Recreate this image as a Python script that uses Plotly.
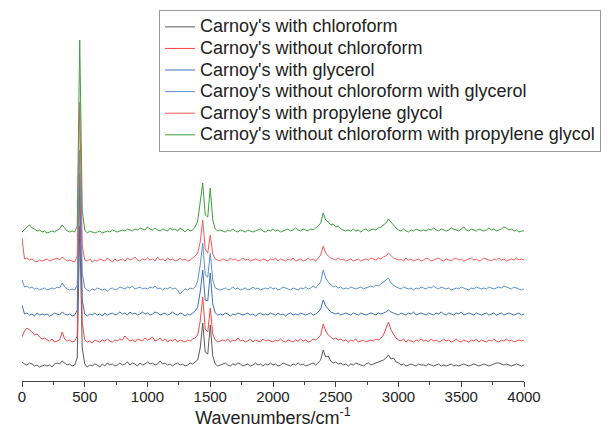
import plotly.graph_objects as go

wavenumbers = list(range(0, 4001, 20))

series_names = [
    "Carnoy's with chloroform",
    "Carnoy's without chloroform",
    "Carnoy's with glycerol",
    "Carnoy's without chloroform with glycerol",
    "Carnoy's with propylene glycol",
    "Carnoy's without chloroform with propylene glycol",
]

with_chloroform = [
    4, 2, 1, 3, 2, 0, 1, -1, 0, 1,
    0, 1, -1, 2, 3, 2, 5, 3, 1, 2,
    0, 1, 8, 140, 18, 2, -1, 1, 0, 2,
    1, -1, 2, 0, 3, 1, 2, 0, 1, 3,
    1, 2, 4, 1, 3, 2, 0, 3, 1, 2,
    4, 2, 3, 1, 2, 5, 2, 3, 1, 2,
    0, 2, 3, 1, 2, 0, 1, 3, 2, 4,
    6, 18, 43, 14, 12, 41, 10, 2, 0, 1,
    2, 3, 1, 0, 2, 1, 3, 2, 0, 1,
    2, 0, 1, 3, 1, 2, 0, 2, 1, 3,
    1, 2, 0, 1, 3, 2, 1, 0, 2, 1,
    3, 1, 2, 0, 1, 2, 3, 1, 4, 6,
    16, 9, 10, 5, 3, 4, 2, 3, 1, 2,
    0, 2, 1, 3, 2, 1, 0, 2, 3, 1,
    2, 3, 4, 5, 6, 8, 11, 7, 8, 4,
    3, 1, 2, 0, 1, 2, 1, 0, 2, 1,
    1, 0, 2, 1, 0, 1, 2, 0, 1, 0,
    1, 2, 0, 1, 0, 1, 2, 1, 0, 1,
    2, 1, 0, 1, 2, 1, 0, 1, 2, 3,
    3, 2, 1, 2, 1, 0, 1, 2, 1, 0,
    1,
]

without_chloroform = [
    6, 12, 15, 13, 11, 8, 9, 6, 4, 5,
    3, 2, 4, 1, 2, 3, 11, 4, 2, 3,
    1, 2, 7, 170, 20, 3, 1, 2, 0, 3,
    2, 1, 3, 2, 4, 2, 1, 3, 2, 4,
    3, 7, 4, 2, 3, 1, 4, 3, 2, 5,
    3, 4, 6, 2, 3, 5, 2, 4, 1, 3,
    2, 4, 1, 3, 2, 1, 3, 2, 4, 5,
    8, 22, 46, 14, 11, 35, 9, 3, 1, 2,
    3, 2, 4, 1, 3, 2, 5, 2, 3, 1,
    2, 4, 1, 3, 2, 1, 4, 2, 3, 2,
    1, 3, 2, 4, 2, 1, 3, 2, 1, 3,
    2, 4, 2, 3, 1, 2, 4, 3, 5, 8,
    19, 12, 8, 6, 4, 5, 3, 4, 2, 3,
    1, 3, 2, 4, 1, 2, 3, 1, 2, 3,
    2, 4, 3, 5, 8, 14, 21, 13, 9, 5,
    3, 2, 4, 1, 3, 2, 1, 3, 2, 4,
    2, 3, 1, 4, 2, 3, 1, 2, 4, 2,
    3, 1, 2, 4, 2, 1, 3, 2, 1, 3,
    2, 4, 1, 3, 2, 1, 3, 2, 4, 2,
    1, 3, 2, 4, 2, 3, 1, 2, 3, 2,
    3,
]

with_glycerol = [
    11, 2, 3, 1, 2, 0, 3, 1, 2, 1,
    2, 0, 1, 3, 2, 1, 4, 2, 1, 2,
    0, 1, 6, 130, 16, 2, 0, 2, 1, 3,
    1, 2, 0, 3, 1, 2, 3, 1, 2, 4,
    2, 3, 1, 4, 2, 3, 1, 2, 4, 2,
    3, 1, 2, 4, 3, 1, 2, 3, 1, 2,
    4, 2, 1, 3, 2, 0, 2, 1, 3, 5,
    9, 24, 46, 16, 15, 43, 12, 3, 1, 2,
    1, 3, 2, 0, 2, 1, 3, 2, 1, 2,
    3, 1, 2, 0, 2, 3, 1, 2, 1, 3,
    2, 1, 3, 1, 2, 0, 2, 3, 1, 2,
    1, 3, 2, 1, 2, 3, 1, 2, 4, 7,
    16, 10, 7, 4, 3, 2, 3, 1, 2, 3,
    2, 1, 3, 2, 1, 3, 2, 1, 2, 3,
    2, 1, 3, 2, 3, 4, 6, 4, 3, 2,
    1, 3, 2, 1, 3, 2, 4, 1, 2, 3,
    2, 1, 3, 2, 1, 3, 2, 4, 2, 1,
    3, 2, 1, 3, 2, 4, 1, 2, 3, 2,
    1, 3, 2, 1, 2, 3, 1, 2, 3, 1,
    2, 3, 1, 2, 3, 2, 1, 2, 3, 1,
    2,
]

without_chloroform_glycerol = [
    11, 4, 5, 3, 4, 2, 3, 1, 2, 3,
    1, 2, 3, 2, 4, 3, 8, 4, 2, 1,
    2, 1, 6, 141, 18, 3, 1, 0, 2, 1,
    3, 2, 1, 2, 0, 2, 3, 1, 2, 4,
    3, 2, 4, 3, 5, 2, 3, 4, 2, 3,
    2, 4, 3, 5, 2, 3, 1, 3, 2, 4,
    2, 3, 1, -3, 0, 2, 1, 3, 2, 4,
    10, 26, 48, 16, 14, 38, 11, 3, 2, 1,
    2, 3, 1, 2, 4, 2, 3, 1, 2, 3,
    1, 2, 4, 2, 3, 1, 2, 3, 2, 4,
    2, 3, 1, 2, 4, 3, 2, 1, 3, 2,
    1, 3, 2, 4, 2, 3, 5, 3, 6, 9,
    21, 13, 9, 6, 4, 5, 3, 4, 2, 3,
    2, 4, 3, 2, 3, 4, 2, 3, 4, 5,
    4, 6, 5, 7, 9, 11, 13, 8, 6, 4,
    3, 2, 4, 3, 2, 3, 1, 3, 2, 4,
    3, 2, 4, 3, 5, 3, 2, 4, 3, 2,
    3, 1, 2, 3, 2, 4, 3, 2, 1, 3,
    2, 4, 3, 2, 3, 2, 4, 3, 2, 3,
    4, 3, 5, 4, 3, 2, 4, 3, 2, 1,
    2,
]

with_propylene_glycol = [
    24, 3, 4, 2, 3, 1, 0, 2, 1, 2,
    3, 1, 2, 3, 4, 2, 5, 3, 1, 2,
    1, 0, 6, 160, 16, 2, 1, 3, 0, 2,
    1, 3, 2, 1, 4, 2, 0, 3, 1, 2,
    3, 1, 4, 2, 3, 5, 2, 1, 3, 2,
    4, 2, 3, 1, 5, 2, 3, 1, 4, 2,
    3, 1, 2, 4, 2, 3, 1, 2, 4, 6,
    9, 20, 42, 13, 9, 27, 8, 3, 2, 1,
    3, 2, 1, 4, 2, 3, 1, 2, 4, 2,
    3, 1, 2, 3, 2, 1, 3, 2, 1, 3,
    2, 4, 1, 3, 2, 1, 3, 2, 4, 1,
    2, 3, 1, 2, 4, 2, 3, 1, 4, 7,
    16, 9, 6, 4, 3, 2, 4, 2, 3, 1,
    2, 3, 1, 2, 3, 1, 2, 3, 2, 4,
    3, 2, 4, 3, 5, 6, 9, 6, 4, 3,
    2, 3, 1, 4, 2, 3, 1, 2, 3, 1,
    2, 4, 3, 1, 2, 3, 4, 2, 1, 3,
    2, 1, 3, 4, 2, 3, 1, 2, 3, 4,
    2, 3, 1, 2, 4, 3, 2, 1, 3, 2,
    4, 2, 3, 1, 2, 3, 2, 4, 2, 3,
    2,
]

without_chloroform_propylene_glycol = [
    1, 4, 6, 8, 5, 4, 2, 3, 1, 2,
    0, 1, 2, 1, 3, 4, 8, 5, 2, 1,
    2, 1, 7, 193, 22, 3, 0, 2, 1, 0,
    1, 2, 0, 1, 2, 1, 3, 2, 1, 2,
    3, 2, 4, 3, 2, 4, 3, 5, 4, 3,
    6, 4, 3, 5, 3, 2, 4, 3, 2, 5,
    3, 4, 2, 5, 3, 1, 4, 2, 3, 6,
    12, 30, 50, 18, 16, 45, 13, 4, 2, 3,
    2, 1, 3, 2, 4, 2, 1, 3, 2, 1,
    3, 2, 1, 2, 3, 4, 2, 1, 3, 2,
    4, 2, 3, 1, 2, 3, 4, 2, 3, 5,
    3, 2, 4, 3, 2, 4, 3, 5, 7, 10,
    20, 13, 11, 8, 9, 6, 7, 4, 3, 2,
    3, 2, 4, 2, 3, 1, 3, 4, 2, 3,
    4, 3, 5, 6, 8, 10, 14, 11, 7, 5,
    3, 2, 4, 2, 1, 3, 2, 4, 3, 2,
    3, 2, 4, 3, 5, 3, 2, 4, 3, 2,
    3, 5, 4, 3, 2, 4, 6, 3, 2, 4,
    3, 2, 4, 3, 2, 3, 5, 3, 4, 2,
    3, 4, 6, 5, 3, 4, 2, 3, 1, 2,
    2,
]

all_series = [
    with_chloroform,
    without_chloroform,
    with_glycerol,
    without_chloroform_glycerol,
    with_propylene_glycol,
    without_chloroform_propylene_glycol,
]

# vertical stacking offsets of the spectra (display only)
stack_offsets = [15, 38, 65, 90, 119, 148]
colors = ["#5a5a5a", "#f04848", "#3f72b8", "#5f8fcc", "#f45a5a", "#3f9e3f"]

fig = go.Figure()
for name, vals, off, col in zip(series_names, all_series, stack_offsets, colors):
    fig.add_trace(go.Scatter(
        x=wavenumbers,
        y=[v + off for v in vals],
        mode="lines",
        name='<span style="font-size:18px">' + name + "</span>",
        line=dict(color=col, width=1),
    ))

fig.update_layout(
    width=614,
    height=441,
    margin=dict(l=14, r=98, t=5, b=68, autoexpand=False),
    paper_bgcolor="white",
    plot_bgcolor="white",
    font=dict(family="Liberation Sans, Arial, sans-serif", color="#222"),
    showlegend=True,
    legend=dict(
        x=0.273, y=1.008, xanchor="left", yanchor="top",
        bordercolor="#999", borderwidth=1, bgcolor="white",
        font=dict(size=14.3, color="#222"),
        tracegroupgap=0,
    ),
    xaxis=dict(
        range=[0, 4000],
        tickvals=[0, 500, 1000, 1500, 2000, 2500, 3000, 3500, 4000],
        showgrid=False, zeroline=False,
        showline=True, linecolor="#444", linewidth=1,
        ticks="outside", ticklen=5, tickcolor="#444",
        ticklabelstandoff=-3,
        minor=dict(dtick=250, ticks="outside", ticklen=3, tickcolor="#444", showgrid=False),
        tickfont=dict(size=15, color="#222"),
        title=dict(text="Wavenumbers/cm<sup>-1</sup>", font=dict(size=18, color="#222"), standoff=0),
    ),
    yaxis=dict(range=[0, 368], visible=False, fixedrange=True),
)

fig.write_html("out.html")
